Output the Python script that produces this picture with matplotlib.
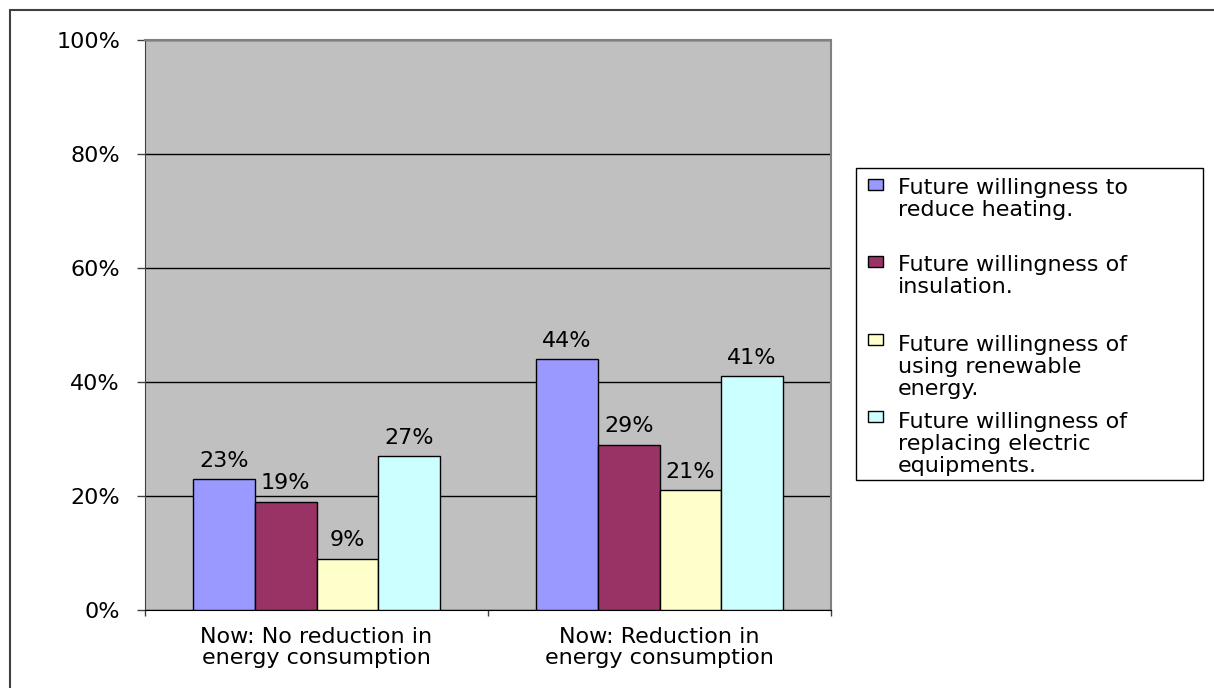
import numpy as np
import matplotlib.pyplot as plt
from matplotlib.patches import Rectangle

categories = ["Now: No reduction in\nenergy consumption",
              "Now: Reduction in\nenergy consumption"]
series_names = ["Future willingness to\nreduce heating.",
                "Future willingness of\ninsulation.",
                "Future willingness of\nusing renewable\nenergy.",
                "Future willingness of\nreplacing electric\nequipments."]
heating = [23, 44]
insulation = [19, 29]
renewable = [9, 21]
electric = [27, 41]
colors = ["#9999FF", "#993366", "#FFFFCC", "#CCFFFF"]

plt.rcParams['font.family'] = ['DejaVu Sans']
fs = 16

W, H = 1214, 688
fig = plt.figure(figsize=(W / 100, H / 100), dpi=100)
ax = fig.add_axes([145 / W, 1 - 610 / H, (831 - 145) / W, (610 - 40) / H])
ax.set_facecolor("#C0C0C0")

x = np.arange(len(categories))
bw = 0.18
for i, vals in enumerate([heating, insulation, renewable, electric]):
    bars = ax.bar(x + (i - 1.5) * bw, vals, bw, color=colors[i],
                  edgecolor="black", linewidth=1, zorder=3)
    for b, v in zip(bars, vals):
        ax.annotate(f"{v}%", (b.get_x() + b.get_width() / 2, v),
                    xytext=(0, 6), textcoords="offset points",
                    ha="center", va="bottom", fontsize=fs, zorder=4)

ax.set_xlim(-0.5, 1.5)
ax.set_ylim(0, 100)
ax.set_yticks(np.arange(0, 101, 20))
ax.set_yticklabels([f"{t}%" for t in range(0, 101, 20)], fontsize=fs)
ax.yaxis.grid(True, color="black", linewidth=1, zorder=1)
ax.set_axisbelow(True)
ax.tick_params(axis="y", direction="out", length=6, width=1, pad=12,
               color="#404040")

ax.set_xticks(x)
ax.set_xticklabels(categories, fontsize=fs, linespacing=1.08)
ax.tick_params(axis="x", which="major", length=0, pad=12)
ax.set_xticks([-0.5, 0.5, 1.5], minor=True)
ax.tick_params(axis="x", which="minor", direction="out", length=4,
               width=1, color="#404040")

for s in ["top", "right"]:
    ax.spines[s].set_color("#808080")
    ax.spines[s].set_linewidth(1.5)
ax.spines["left"].set_color("#404040")
ax.spines["bottom"].set_color("black")

# outer chart border
fig.patches.append(Rectangle((10 / W, -0.2), 1.2, 1.2 - 10 / H,
                             transform=fig.transFigure, fill=False,
                             edgecolor="#404040", linewidth=1.5))

# legend box drawn by hand so swatches sit on the first line of each entry
lx0, lx1, ly0, ly1 = 856, 1203, 168, 480
fig.patches.append(Rectangle((lx0 / W, 1 - ly1 / H), (lx1 - lx0) / W,
                             (ly1 - ly0) / H, transform=fig.transFigure,
                             facecolor="white", edgecolor="black",
                             linewidth=1))
first_baselines = [192, 269, 347, 424]
pitch = 24
for name, c, yb in zip(series_names, colors, first_baselines):
    fig.patches.append(Rectangle((868 / W, 1 - (yb - 2) / H), 15 / W, 11 / H,
                                 transform=fig.transFigure, facecolor=c,
                                 edgecolor="black", linewidth=1))
    # baseline alignment pins the last line, so shift by the extra lines
    last = yb + pitch * name.count("\n")
    fig.text(898 / W, 1 - last / H, name, fontsize=fs, ha="left",
             va="baseline", linespacing=1.13)

fig.savefig("out.png", dpi=100)
